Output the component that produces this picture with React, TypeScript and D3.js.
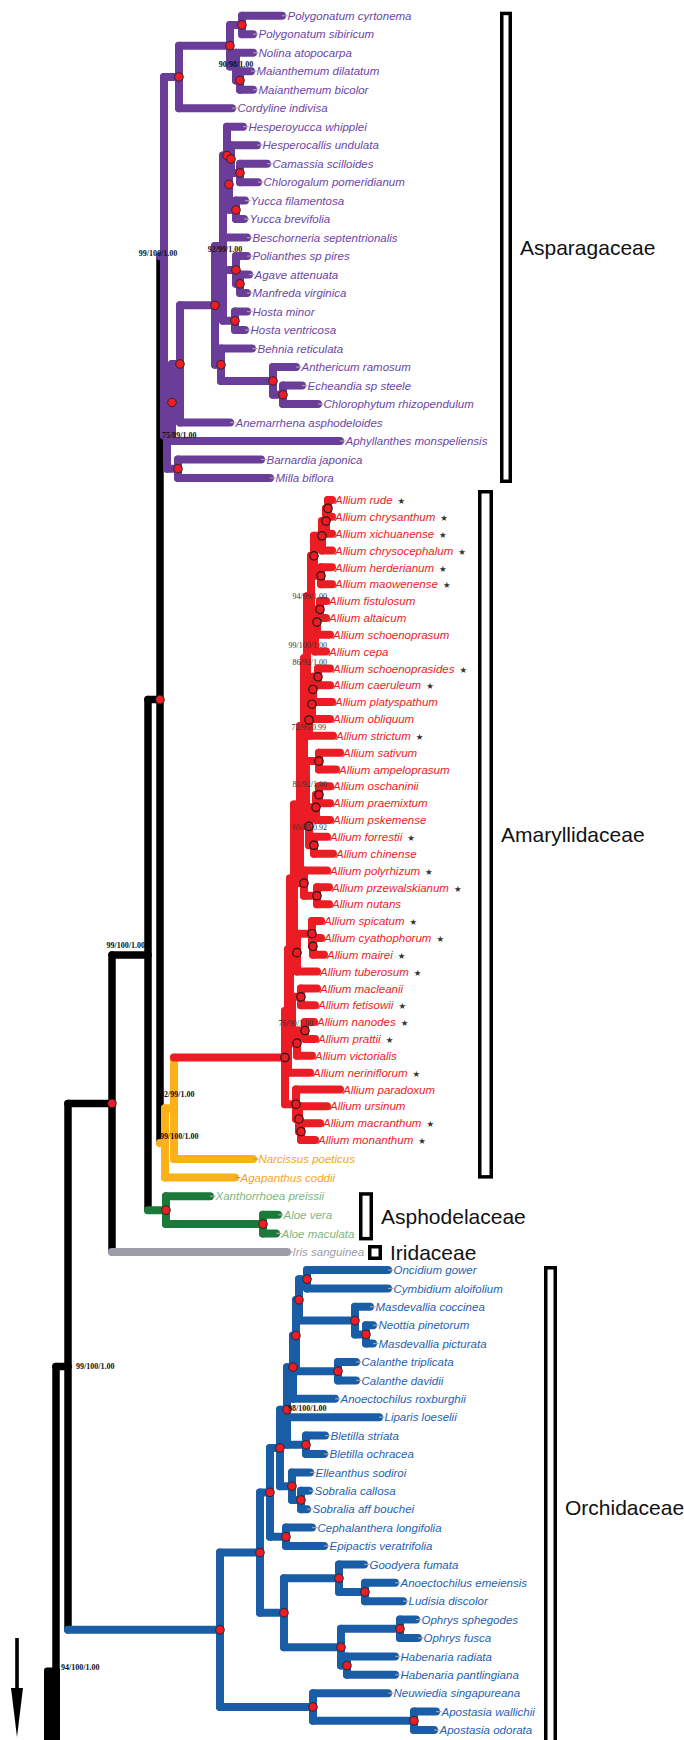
import React from "react";
import * as d3 from "d3";

const W = 684;
const H = 1740;

// internal nodes: id, parent, depth from the root, clade
const backboneNodes: [string, string, number, string][] = [
  ["BB3", "", 0, "bb"],
  ["BB2", "BB3", 12, "bb"],
  ["BB1", "BB2", 56, "bb"],
  ["C", "BB1", 92, "bb"],
  ["AA", "C", 104, "bb"],
  ["Am", "AA", 109, "amar"],
  ["Am2", "Am", 118, "amar"],
  ["Asph", "C", 110, "asph"],
  ["AloeN", "Asph", 207, "asph"],
];

const asparagaceaeNodes: [string, string, number, string][] = [
  ["R", "AA", 108, "aspar"],
  ["U", "R", 123, "aspar"],
  ["Upper1", "U", 174, "aspar"],
  ["PolygPair", "Upper1", 186, "aspar"],
  ["NolMai", "Upper1", 180, "aspar"],
  ["MaiPair", "NolMai", 184, "aspar"],
  ["P", "R", 111, "aspar"],
  ["N", "P", 116, "aspar"],
  ["M", "N", 124, "aspar"],
  ["H", "M", 159, "aspar"],
  ["H1", "H", 167, "aspar"],
  ["H1a", "H1", 171, "aspar"],
  ["H1b", "H1a", 173, "aspar"],
  ["HC", "H1b", 175, "aspar"],
  ["CC", "HC", 184, "aspar"],
  ["Yucca", "H1b", 180, "aspar"],
  ["PAM", "H1", 180, "aspar"],
  ["AgMa", "PAM", 184, "aspar"],
  ["Hosta", "H1", 179, "aspar"],
  ["H2", "H", 165, "aspar"],
  ["AEC", "H2", 217, "aspar"],
  ["EC", "AEC", 227, "aspar"],
  ["BM", "P", 122, "aspar"],
];

const alliumNodes: [string, string, number, string][] = [
  ["AlliumRoot", "Am2", 229, "allium"],
  ["n32", "AlliumRoot", 232, "allium"],
  ["n31", "n32", 234, "allium"],
  ["nb3", "n31", 238, "allium"],
  ["nb2", "nb3", 244, "allium"],
  ["nbig", "nb2", 248, "allium"],
  ["n14", "nbig", 251, "allium"],
  ["n8", "n14", 255, "allium"],
  ["G1", "n8", 258, "allium"],
  ["n3", "G1", 266, "allium"],
  ["n2", "n3", 270, "allium"],
  ["n1", "n2", 272, "allium"],
  ["hm", "G1", 265, "allium"],
  ["n7", "n8", 259, "allium"],
  ["n6", "n7", 261, "allium"],
  ["n5", "n6", 264, "allium"],
  ["n72", "n14", 253, "allium"],
  ["n11", "n72", 256, "allium"],
  ["n10", "n11", 257, "allium"],
  ["n9", "n10", 262, "allium"],
  ["n81", "nbig", 250, "allium"],
  ["n12", "n81", 263, "allium"],
  ["n19", "n81", 253, "allium"],
  ["n16", "n19", 260, "allium"],
  ["n16a", "n16", 263, "allium"],
  ["n18", "n19", 258, "allium"],
  ["n21", "nb2", 248, "allium"],
  ["n20", "n21", 261, "allium"],
  ["n25", "nb3", 241, "allium"],
  ["n24", "n25", 256, "allium"],
  ["n23", "n24", 257, "allium"],
  ["n30", "n31", 236, "allium"],
  ["n27", "n30", 245, "allium"],
  ["n29", "n30", 241, "allium"],
  ["n28", "n29", 249, "allium"],
  ["Y", "AlliumRoot", 240, "allium"],
  ["Yb", "Y", 243, "allium"],
  ["Yc", "Yb", 245, "allium"],
];

const orchidNodes: [string, string, number, string][] = [
  ["O", "BB2", 164, "orch"],
  ["O1", "O", 204, "orch"],
  ["O2", "O1", 214, "orch"],
  ["O4", "O2", 224, "orch"],
  ["O5", "O4", 231, "orch"],
  ["L3", "O5", 237, "orch"],
  ["L2", "L3", 240, "orch"],
  ["L1", "L2", 243, "orch"],
  ["OncCym", "L1", 251, "orch"],
  ["Masd", "L1", 299, "orch"],
  ["NM", "Masd", 310, "orch"],
  ["Cal", "L2", 282, "orch"],
  ["Blet", "O5", 250, "orch"],
  ["ES", "O4", 236, "orch"],
  ["Sobr", "ES", 245, "orch"],
  ["CE", "O2", 230, "orch"],
  ["O3", "O1", 228, "orch"],
  ["G", "O3", 283, "orch"],
  ["AnoLud", "G", 309, "orch"],
  ["OH", "O3", 285, "orch"],
  ["Ophrys", "OH", 344, "orch"],
  ["Hab", "OH", 291, "orch"],
  ["Ap", "O", 257, "orch"],
  ["Apost", "Ap", 358, "orch"],
];

// leaves, top to bottom: name, parent, tip depth, starred
const asparagaceaeLeaves: [string, string, number, boolean?][] = [
  ["Polygonatum cyrtonema", "PolygPair", 226],
  ["Polygonatum sibiricum", "PolygPair", 197],
  ["Nolina atopocarpa", "NolMai", 197],
  ["Maianthemum dilatatum", "MaiPair", 195],
  ["Maianthemum bicolor", "MaiPair", 197],
  ["Cordyline indivisa", "U", 176],
  ["Hesperoyucca whipplei", "H1a", 187],
  ["Hesperocallis undulata", "HC", 201],
  ["Camassia scilloides", "CC", 211],
  ["Chlorogalum pomeridianum", "CC", 202],
  ["Yucca filamentosa", "Yucca", 189],
  ["Yucca brevifolia", "Yucca", 188],
  ["Beschorneria septentrionalis", "H1", 191],
  ["Polianthes sp pires", "PAM", 191],
  ["Agave attenuata", "AgMa", 193],
  ["Manfreda virginica", "AgMa", 191],
  ["Hosta minor", "Hosta", 191],
  ["Hosta ventricosa", "Hosta", 189],
  ["Behnia reticulata", "H2", 196],
  ["Anthericum ramosum", "AEC", 240],
  ["Echeandia sp steele", "EC", 246],
  ["Chlorophytum rhizopendulum", "EC", 262],
  ["Anemarrhena asphodeloides", "M", 174],
  ["Aphyllanthes monspeliensis", "N", 284],
  ["Barnardia japonica", "BM", 205],
  ["Milla biflora", "BM", 214],
];

const alliumLeaves: [string, string, number, boolean?][] = [
  ["Allium rude", "n1", 276, true],
  ["Allium chrysanthum", "n1", 276, true],
  ["Allium xichuanense", "n2", 276, true],
  ["Allium chrysocephalum", "n3", 276, true],
  ["Allium herderianum", "hm", 276, true],
  ["Allium maowenense", "hm", 276, true],
  ["Allium fistulosum", "n5", 270],
  ["Allium altaicum", "n5", 270],
  ["Allium schoenoprasum", "n6", 274],
  ["Allium cepa", "n7", 270],
  ["Allium schoenoprasides", "n9", 274, true],
  ["Allium caeruleum", "n9", 274, true],
  ["Allium platyspathum", "n10", 276],
  ["Allium obliquum", "n11", 274],
  ["Allium strictum", "n72", 277, true],
  ["Allium sativum", "n12", 284],
  ["Allium ampeloprasum", "n12", 280],
  ["Allium oschaninii", "n16a", 274],
  ["Allium praemixtum", "n16a", 274],
  ["Allium pskemense", "n16", 274],
  ["Allium forrestii", "n18", 271, true],
  ["Allium chinense", "n18", 277],
  ["Allium polyrhizum", "n21", 271, true],
  ["Allium przewalskianum", "n20", 273, true],
  ["Allium nutans", "n20", 273],
  ["Allium spicatum", "n24", 265, true],
  ["Allium cyathophorum", "n23", 265, true],
  ["Allium mairei", "n23", 268, true],
  ["Allium tuberosum", "n25", 261, true],
  ["Allium macleanii", "n27", 261],
  ["Allium fetisowii", "n27", 259, true],
  ["Allium nanodes", "n28", 258, true],
  ["Allium prattii", "n28", 259, true],
  ["Allium victorialis", "n29", 256],
  ["Allium neriniflorum", "n32", 254, true],
  ["Allium paradoxum", "Y", 284],
  ["Allium ursinum", "Yb", 271],
  ["Allium macranthum", "Yc", 264, true],
  ["Allium monanthum", "Yc", 259, true],
];

const otherLeaves: [string, string, number, boolean?][] = [
  ["Narcissus poeticus", "Am2", 197],
  ["Agapanthus coddii", "Am", 179],
  ["Xanthorrhoea preissii", "Asph", 154],
  ["Aloe vera", "AloeN", 222],
  ["Aloe maculata", "AloeN", 220],
  ["Iris sanguinea", "BB1", 231],
];

const orchidLeaves: [string, string, number, boolean?][] = [
  ["Oncidium gower", "OncCym", 332],
  ["Cymbidium aloifolium", "OncCym", 332],
  ["Masdevallia coccinea", "Masd", 314],
  ["Neottia pinetorum", "NM", 317],
  ["Masdevallia picturata", "NM", 317],
  ["Calanthe triplicata", "Cal", 300],
  ["Calanthe davidii", "Cal", 300],
  ["Anoectochilus roxburghii", "L3", 279],
  ["Liparis loeselii", "O5", 323],
  ["Bletilla striata", "Blet", 269],
  ["Bletilla ochracea", "Blet", 268],
  ["Elleanthus sodiroi", "ES", 254],
  ["Sobralia callosa", "Sobr", 253],
  ["Sobralia aff bouchei", "Sobr", 251],
  ["Cephalanthera longifolia", "CE", 256],
  ["Epipactis veratrifolia", "CE", 268],
  ["Goodyera fumata", "G", 308],
  ["Anoectochilus emeiensis", "AnoLud", 339],
  ["Ludisia discolor", "AnoLud", 347],
  ["Ophrys sphegodes", "Ophrys", 360],
  ["Ophrys fusca", "Ophrys", 362],
  ["Habenaria radiata", "Hab", 339],
  ["Habenaria pantlingiana", "Hab", 339],
  ["Neuwiedia singapureana", "Ap", 332],
  ["Apostasia wallichii", "Apost", 380],
  ["Apostasia odorata", "Apost", 378],
];

const leafCladeOverride: Record<string, string> = { "Iris sanguinea": "irid" };

// node support values
const supports: [string, string][] = [
  ["NolMai", "90/98/1.00"],
  ["R", "99/100/1.00"],
  ["H1", "92/99/1.00"],
  ["P", "75/89/1.00"],
  ["n8", "94/99/1.00"],
  ["n7", "99/100/1.00"],
  ["n14", "86/92/1.00"],
  ["n72", "72/95/0.99"],
  ["n81", "81/92/1.00"],
  ["n19", "69/85/0.92"],
  ["n30", "76/90/1.00"],
  ["C", "99/100/1.00"],
  ["Am2", "92/99/1.00"],
  ["Am", "99/100/1.00"],
  ["BB2", "99/100/1.00"],
  ["O5", "98/100/1.00"],
];
const stemSupport = "94/100/1.00";

const filledDots = [
  "U", "Upper1", "PolygPair", "MaiPair", "H1a", "H1b", "HC", "CC", "Yucca", "PAM", "AgMa",
  "Hosta", "H", "H2", "AEC", "EC", "M", "N", "BM", "AA", "BB1", "Asph", "AloeN",
  "O", "O1", "O2", "O3", "O4", "O5", "L1", "L2", "L3", "OncCym", "Masd", "NM", "Cal",
  "Blet", "ES", "Sobr", "CE", "G", "AnoLud", "OH", "Ophrys", "Hab", "Ap", "Apost",
];
const openCircles = [
  "n1", "n2", "n3", "hm", "G1", "n5", "n6", "n9", "n10", "n11", "n72", "n12", "n16a", "n16",
  "n18", "n19", "n20", "n21", "n23", "n24", "n25", "n27", "n28", "n29", "AlliumRoot", "Y", "Yb", "Yc",
];

const families: [string, string, string][] = [
  ["Asparagaceae", "Polygonatum cyrtonema", "Milla biflora"],
  ["Amaryllidaceae", "Allium rude", "Agapanthus coddii"],
  ["Asphodelaceae", "Xanthorrhoea preissii", "Aloe maculata"],
  ["Iridaceae", "Iris sanguinea", "Iris sanguinea"],
  ["Orchidaceae", "Oncidium gower", "Apostasia odorata"],
];

// ---- styling / layout ----
const STROKE: Record<string, string> = {
  bb: "#000000",
  aspar: "#6a3d99",
  amar: "#fbb117",
  allium: "#ec1c24",
  asph: "#1b7a39",
  irid: "#9b9da8",
  orch: "#1a5da7",
};
const TEXT: Record<string, string> = {
  aspar: "#6d45a5",
  amar: "#f5a623",
  allium: "#ec1c24",
  asph: "#7db67e",
  irid: "#9a9cab",
  orch: "#1f61b0",
};
const familyBox: Record<string, { x: number; w: number; padTop: number; padBottom: number }> = {
  Asparagaceae: { x: 500, w: 12, padTop: 4, padBottom: 5 },
  Amaryllidaceae: { x: 478, w: 15, padTop: 10, padBottom: 1 },
  Asphodelaceae: { x: 359, w: 14, padTop: 4, padBottom: 7 },
  Iridaceae: { x: 368, w: 14, padTop: 7, padBottom: 8 },
  Orchidaceae: { x: 544, w: 13, padTop: 4, padBottom: 20 },
};
// anchor, dx, dy, bold
const supportPlace: Record<string, [string, number, number, boolean]> = {
  NolMai: ["middle", 0, -2, true],
  R: ["middle", -6, -3, true],
  H1: ["middle", 2, 3, true],
  P: ["start", -5, 0, true],
  n8: ["end", 16, 0, false],
  n7: ["end", 12, 8, false],
  n14: ["end", 20, 4, false],
  n72: ["end", 17, 7, false],
  n81: ["end", 21, -9, false],
  n19: ["end", 18, 1, false],
  n30: ["end", 21, 3, false],
  C: ["end", -3, -10, true],
  Am2: ["start", -14, -14, true],
  Am: ["start", -5, -7, true],
  BB2: ["start", 8, 0, true],
  O5: ["start", 1, -2, true],
};

const yScale = d3
  .scaleLinear()
  .domain([0, 25, 26, 64, 65, 70, 71, 96])
  .range([15.7, 478, 500, 1140, 1159, 1252, 1270, 1730]);
const xScale = d3.scaleLinear().domain([0, 100]).range([56, 156]);
const stemTopRow = 92.6;

type Row = {
  id: string;
  parent: string | null;
  depth: number;
  clade: string;
  leaf: boolean;
  star: boolean;
  rank: number;
};

function buildTree() {
  const rows: Row[] = [];
  [backboneNodes, asparagaceaeNodes, alliumNodes, orchidNodes].forEach((g) =>
    g.forEach(([id, parent, depth, clade]) =>
      rows.push({ id, parent: parent || null, depth, clade, leaf: false, star: false, rank: Infinity })
    )
  );
  const cladeOf = new Map(rows.map((r) => [r.id, r.clade]));
  let rank = 0;
  [asparagaceaeLeaves, alliumLeaves, otherLeaves, orchidLeaves].forEach((g) =>
    g.forEach(([name, parent, tip, star]) =>
      rows.push({
        id: name,
        parent,
        depth: tip,
        clade: leafCladeOverride[name] ?? (cladeOf.get(parent) as string),
        leaf: true,
        star: !!star,
        rank: rank++,
      })
    )
  );

  const root = d3
    .stratify<Row>()
    .id((d) => d.id)
    .parentId((d) => d.parent)(rows);

  // keep leaves in listed order
  const minRank = new Map<string, number>();
  root.eachAfter((n) => {
    const r = n.children ? Math.min(...n.children.map((c) => minRank.get(c.data.id)!)) : n.data.rank;
    minRank.set(n.data.id, r);
  });
  root.sort((a, b) => minRank.get(a.data.id)! - minRank.get(b.data.id)!);

  const pos = new Map<string, { x: number; y: number }>();
  root.eachAfter((n) => {
    const y = n.children
      ? d3.mean(n.children, (c) => pos.get(c.data.id)!.y)!
      : yScale(n.data.rank);
    pos.set(n.data.id, { x: xScale(n.data.depth), y });
  });
  return { root, pos };
}

export default function App() {
  const { root, pos } = React.useMemo(buildTree, []);
  const nodes = root.descendants();
  const leaves = root.leaves();
  const leafPos = (name: string) => pos.get(name)!;

  const width = (clade: string) => (clade === "bb" ? 7.5 : 8);

  const verticals = nodes
    .filter((n) => n.children && n.parent)
    .map((n) => {
      const p = pos.get(n.data.id)!;
      const ys = n.children!.map((c) => pos.get(c.data.id)!.y);
      return (
        <line
          key={"v" + n.data.id}
          x1={p.x}
          x2={p.x}
          y1={d3.min(ys)}
          y2={d3.max(ys)}
          stroke={STROKE[n.data.clade]}
          strokeWidth={width(n.data.clade)}
          strokeLinecap="round"
        />
      );
    });

  const horizontals = nodes
    .filter((n) => n.parent)
    .map((n) => {
      const p = pos.get(n.data.id)!;
      const pp = pos.get(n.parent!.data.id)!;
      return (
        <line
          key={"h" + n.data.id}
          x1={pp.x}
          x2={p.x}
          y1={p.y}
          y2={p.y}
          stroke={STROKE[n.data.clade]}
          strokeWidth={width(n.data.clade)}
          strokeLinecap="round"
        />
      );
    });

  const rootPos = pos.get(root.data.id)!;
  const firstChild = pos.get(root.children![0].data.id)!;
  const stemTop = yScale(stemTopRow);

  return (
    <svg
      width={W}
      height={H}
      viewBox={`0 0 ${W} ${H}`}
      style={{ position: "absolute", left: 0, top: 0, background: "#fff" }}
    >
      <rect width={W} height={H} fill="#fff" />

      {/* root stem continuing below */}
      <line
        x1={rootPos.x}
        x2={rootPos.x}
        y1={firstChild.y}
        y2={H + 20}
        stroke="#000"
        strokeWidth={7.5}
        strokeLinecap="round"
      />
      <rect x={rootPos.x - 12} y={stemTop} width={16} height={H - stemTop + 10} rx={3} fill="#000" />
      <text
        x={rootPos.x + 5}
        y={stemTop}
        dy="0.35em"
        fontFamily="'Liberation Serif', 'Times New Roman', serif"
        fontWeight="bold"
        fontSize={8}
        fill="#111"
      >
        {stemSupport}
      </text>

      {/* arrow */}
      <rect x={15.2} y={1638} width={3.6} height={54} fill="#000" />
      <path d="M11,1688 L23,1688 L17,1737 Z" fill="#000" />

      {/* family brackets */}
      {families.map(([name, first, last]) => {
        const b = familyBox[name];
        const top = leafPos(first).y - b.padTop;
        const bottom = leafPos(last).y + b.padBottom;
        return (
          <g key={name}>
            <rect
              x={b.x + 1.75}
              y={top + 1.75}
              width={b.w - 3.5}
              height={bottom - top - 3.5}
              fill="#fff"
              stroke="#000"
              strokeWidth={3.5}
            />
            <text
              x={b.x + b.w + 8}
              y={(top + bottom) / 2}
              dy="0.35em"
              fontFamily="'Liberation Sans', Arial, sans-serif"
              fontSize={21}
              fill="#111"
            >
              {name}
            </text>
          </g>
        );
      })}

      {/* branches */}
      <g>{verticals}</g>
      <g>{horizontals}</g>

      {/* leaf connectors and labels */}
      {leaves.map((l) => {
        const p = pos.get(l.data.id)!;
        const isAllium = l.data.clade === "allium";
        const gap = isAllium ? 3 : 5.5;
        return (
          <g key={"l" + l.data.id}>
            {!isAllium && (
              <line x1={p.x} x2={p.x + gap} y1={p.y} y2={p.y} stroke="#a0a0a0" strokeWidth={1.2} />
            )}
            <text
              x={p.x + gap}
              y={p.y}
              dy="0.36em"
              fontFamily="'Liberation Sans', Arial, sans-serif"
              fontSize={11.5}
              fill={TEXT[l.data.clade]}
            >
              <tspan fontStyle="italic">{l.data.id}</tspan>
              {l.data.star && (
                <tspan dx={5} fontSize={8.5} fill="#333" fontFamily="'DejaVu Sans', sans-serif">
                  ★
                </tspan>
              )}
            </text>
          </g>
        );
      })}

      {/* node markers */}
      {openCircles.map((id) => {
        const p = pos.get(id)!;
        return <circle key={"o" + id} cx={p.x} cy={p.y} r={4.2} fill="none" stroke="#1a1a1a" strokeWidth={1.2} />;
      })}
      {filledDots.map((id) => {
        const p = pos.get(id)!;
        return <circle key={"d" + id} cx={p.x} cy={p.y} r={4.3} fill="#ee1c25" stroke="#222" strokeWidth={0.9} />;
      })}

      {/* support values */}
      {supports.map(([id, txt]) => {
        const p = pos.get(id)!;
        const [anchor, dx, dy, bold] = supportPlace[id];
        return (
          <text
            key={"s" + id}
            x={p.x + dx}
            y={p.y + dy}
            dy="0.35em"
            textAnchor={anchor as any}
            fontFamily="'Liberation Serif', 'Times New Roman', serif"
            fontWeight={bold ? "bold" : "normal"}
            fontSize={8}
            fill={bold ? "#111" : "#333"}
          >
            {txt}
          </text>
        );
      })}
    </svg>
  );
}
